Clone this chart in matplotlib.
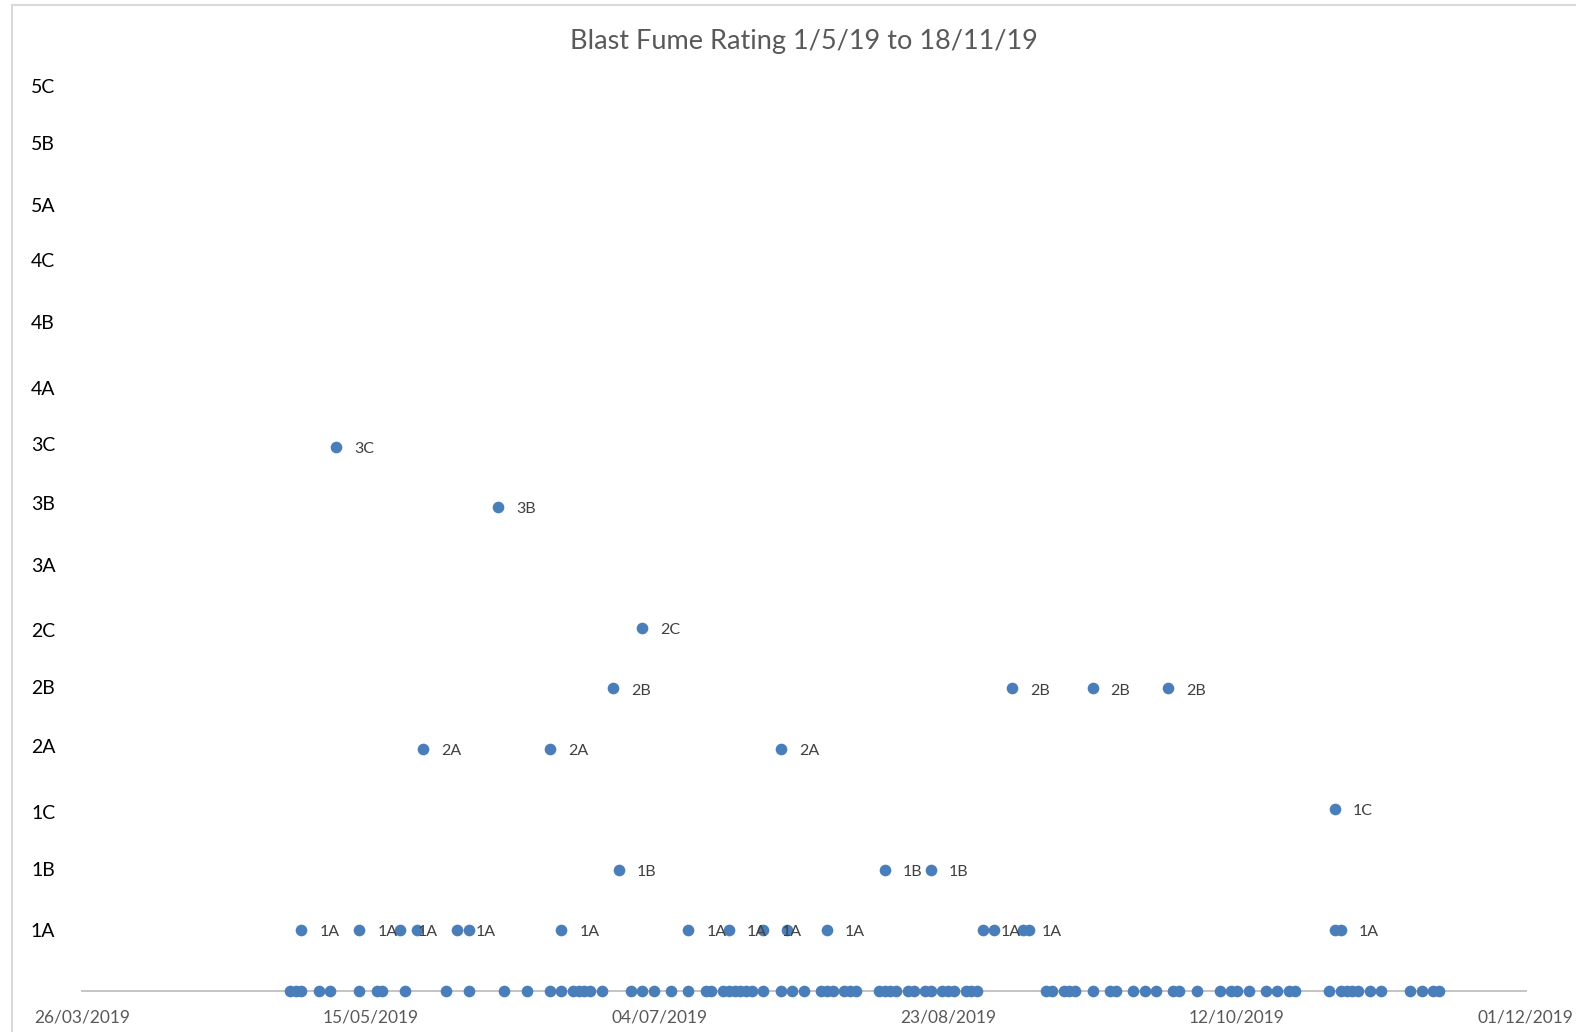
import matplotlib
matplotlib.use('Agg')
import matplotlib.pyplot as plt
import matplotlib.dates as mdates
from matplotlib.patches import Rectangle
import pandas as pd

# fume rating scale, bottom to top (0 = no fume, not labelled)
rating_levels = ['1A', '1B', '1C', '2A', '2B', '2C', '3A', '3B', '3C',
                 '4A', '4B', '4C', '5A', '5B', '5C']

# blasts with no fume (sit on the axis)
zero_dates = [
    '2019-05-01', '2019-05-02', '2019-05-03', '2019-05-06', '2019-05-08', '2019-05-13',
    '2019-05-16', '2019-05-17', '2019-05-21', '2019-05-28', '2019-06-01', '2019-06-07',
    '2019-06-11', '2019-06-15', '2019-06-17', '2019-06-19', '2019-06-20', '2019-06-21',
    '2019-06-22', '2019-06-24', '2019-06-29', '2019-07-01', '2019-07-03', '2019-07-06',
    '2019-07-09', '2019-07-12', '2019-07-13', '2019-07-15', '2019-07-16', '2019-07-17',
    '2019-07-18', '2019-07-19', '2019-07-20', '2019-07-22', '2019-07-25', '2019-07-27',
    '2019-07-29', '2019-08-01', '2019-08-02', '2019-08-03', '2019-08-05', '2019-08-06',
    '2019-08-07', '2019-08-11', '2019-08-12', '2019-08-13', '2019-08-14', '2019-08-16',
    '2019-08-17', '2019-08-19', '2019-08-20', '2019-08-22', '2019-08-23', '2019-08-24',
    '2019-08-26', '2019-08-27', '2019-08-28', '2019-09-09', '2019-09-10', '2019-09-12',
    '2019-09-13', '2019-09-14', '2019-09-17', '2019-09-20', '2019-09-21', '2019-09-24',
    '2019-09-26', '2019-09-28', '2019-10-01', '2019-10-02', '2019-10-05', '2019-10-09',
    '2019-10-11', '2019-10-12', '2019-10-14', '2019-10-17', '2019-10-19', '2019-10-21',
    '2019-10-22', '2019-10-28', '2019-10-30', '2019-10-31', '2019-11-01', '2019-11-02',
    '2019-11-04', '2019-11-06', '2019-11-11', '2019-11-13', '2019-11-15', '2019-11-16',
]

# blasts with a fume rating
rated_dates = [
    '2019-05-03', '2019-05-13', '2019-05-20', '2019-05-23', '2019-05-30', '2019-06-01',
    '2019-06-17', '2019-07-09', '2019-07-16', '2019-07-22', '2019-07-26', '2019-08-02',
    '2019-08-29', '2019-08-31', '2019-09-05', '2019-09-06', '2019-10-29', '2019-10-30',
    '2019-06-27', '2019-08-12', '2019-08-20',
    '2019-10-29',
    '2019-05-24', '2019-06-15', '2019-07-25',
    '2019-06-26', '2019-09-03', '2019-09-17', '2019-09-30',
    '2019-07-01',
    '2019-06-06',
    '2019-05-09',
]
rated_values = [
    '1A', '1A', '1A', '1A', '1A', '1A', '1A', '1A', '1A', '1A', '1A', '1A',
    '1A', '1A', '1A', '1A', '1A', '1A',
    '1B', '1B', '1B',
    '1C',
    '2A', '2A', '2A',
    '2B', '2B', '2B', '2B',
    '2C',
    '3B',
    '3C',
]
# Excel hid some of the overlapping data labels
rated_labelled = [
    True, True, True, False, True, False, True, True, True, True, False, True,
    True, False, True, False, False, True,
    True, True, True,
    True,
    True, True, True,
    True, True, True, True,
    True,
    True,
    True,
]

x_ticks = ['2019-03-26', '2019-05-15', '2019-07-04', '2019-08-23', '2019-10-12', '2019-12-01']

BLUE = '#4A7EBB'
W, H = 1576, 1032


def main():
    plt.rcParams['font.family'] = ['Lato', 'DejaVu Sans']

    fig = plt.figure(figsize=(W / 100, H / 100), dpi=100)
    # chart area border (cropped at right and bottom like the screenshot)
    fig.patches.append(Rectangle((11.7 / W, -0.05), 1.1, 1 - 4.7 / H + 0.05,
                                 transform=fig.transFigure, fill=False,
                                 edgecolor='#D9D9D9', linewidth=1.5))

    x0, x1 = 82.0, 1525.7
    y_base, step = 990.7, 60.45
    y_top = y_base - 16 * step
    ax = fig.add_axes([x0 / W, 1 - y_base / H, (x1 - x0) / W, (y_base - y_top) / H])

    zeros = pd.to_datetime(zero_dates)
    dates = pd.to_datetime(rated_dates)
    levels = [rating_levels.index(v) + 1 for v in rated_values]

    ax.plot(zeros, [0] * len(zeros), 'o', color=BLUE, markersize=8.4,
            markeredgewidth=0, clip_on=False, zorder=3)
    ax.plot(dates, levels, 'o', color=BLUE, markersize=8.4,
            markeredgewidth=0, clip_on=False, zorder=3)

    for d, lv, txt, show in zip(dates, levels, rated_values, rated_labelled):
        if show:
            ax.annotate(txt, (d, lv), xytext=(13, -1.5), textcoords='offset points',
                        ha='left', va='center', fontsize=11.5, color='#404040')

    ax.set_xlim(pd.Timestamp(x_ticks[0]), pd.Timestamp(x_ticks[-1]))
    ax.set_ylim(0, 16)
    ax.set_xticks(pd.to_datetime(x_ticks))
    ax.xaxis.set_major_formatter(mdates.DateFormatter('%d/%m/%Y'))
    # the level names were loose text boxes in the original, a touch off the grid
    label_nudge = [0, 0.01, -0.05, 0.04, 0.03, -0.04, 0.04, 0.06, 0.04,
                   -0.03, 0.07, 0.08, 0, 0.03, -0.04]
    ax.set_yticks([i + 1 + n for i, n in enumerate(label_nudge)])
    ax.set_yticklabels(rating_levels)

    ax.tick_params(axis='x', length=0, pad=13.5, labelsize=12.5, labelcolor='#595959')
    ax.tick_params(axis='y', length=0, pad=28, labelsize=14, labelcolor='#000000')
    for lab in ax.get_yticklabels():
        lab.set_horizontalalignment('center')

    for s in ['top', 'right', 'left']:
        ax.spines[s].set_visible(False)
    ax.spines['bottom'].set_color('#BFBFBF')
    ax.spines['bottom'].set_linewidth(1.3)
    ax.patch.set_visible(False)

    fig.text((x0 + x1) / 2 / W, 1 - 42 / H, 'Blast Fume Rating 1/5/19 to 18/11/19',
             ha='center', va='center', fontsize=19.5, color='#595959')

    fig.savefig('out.png', dpi=100)


if __name__ == '__main__':
    main()
